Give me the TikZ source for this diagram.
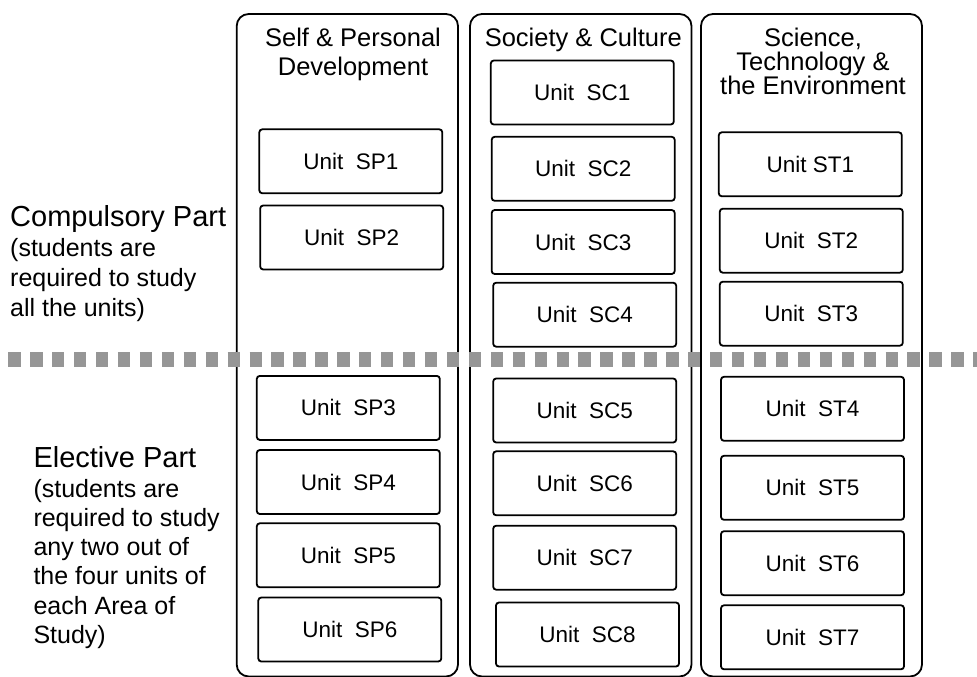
\documentclass[tikz,border=0pt]{standalone}
\usepackage{fontspec}
\setmainfont{Liberation Sans}
\usetikzlibrary{positioning}
\definecolor{sepgray}{RGB}{150,150,150}
\newcommand{\unitw}{183pt}
\newcommand{\unith}{64pt}
\newcommand{\boxlw}{1.8pt}

\begin{document}
\begin{tikzpicture}[x=1pt,y=-1pt]
    \tikzset{area/.style={draw, line width=\boxlw, rounded corners=12pt},
             unitbox/.style={draw, fill=white, line width=\boxlw, rounded corners=3pt,
                 minimum width=\unitw, minimum height=\unith, inner sep=0pt,
                 font=\fontsize{22.5}{27}\selectfont},
             areahead/.style={align=center, inner sep=0pt, anchor=base},
             parttext/.style={align=left, inner sep=0pt, anchor=base west},
             sepline/.style={draw=sepgray, line width=15.5pt, dash pattern=on 12.3pt off 9.63pt}}
    \useasboundingbox (0,0) rectangle (977,677);

    \draw[area] (236.7,14) rectangle (458,676.5);
    \draw[area] (470,14) rectangle (691.5,676.5);
    \draw[area] (701,14) rectangle (922,676.5);

    \node[areahead, font=\fontsize{25.5}{29.3}\selectfont] (headSP) at (353,76) {Self \& Personal\\Development};
    \node[areahead, font=\fontsize{25.5}{29.3}\selectfont] (headSC) at (583.3,46.7) {Society \& Culture};
    \node[areahead, font=\fontsize{25.5}{24}\selectfont] (headST) at (813,94.3) {Science,\\Technology \&\\the Environment};

    \node[parttext, font=\fontsize{25}{30}\selectfont] (compulsory) at (10,316.5)
        {{\fontsize{29}{30}\selectfont Compulsory Part}\\(students are\\required to study\\all the units)};
    \node[parttext, font=\fontsize{25}{29.3}\selectfont] (elective) at (33.3,643.5)
        {{\fontsize{29}{29.3}\selectfont Elective Part}\\(students are\\required to study\\any two out of\\the four units of\\each Area of\\Study)};

    \draw[sepline] (8.3,359.5) -- (977,359.5);

    \node[unitbox] (SP1) at (350.8,161.3) {Unit~~SP1};
    \node[unitbox] (SP2) at (351.7,237.5) {Unit~~SP2};
    \node[unitbox] (SP3) at (348.3,407.9) {Unit~~SP3};
    \node[unitbox] (SP4) at (348.3,482) {Unit~~SP4};
    \node[unitbox] (SP5) at (348.3,555.3) {Unit~~SP5};
    \node[unitbox] (SP6) at (349.8,629.5) {Unit~~SP6};

    \node[unitbox] (SC1) at (582.3,92.5) {Unit~~SC1};
    \node[unitbox] (SC2) at (583.2,168.8) {Unit~~SC2};
    \node[unitbox] (SC3) at (583.2,242) {Unit~~SC3};
    \node[unitbox] (SC4) at (584.7,314.7) {Unit~~SC4};
    \node[unitbox] (SC5) at (584.7,410.5) {Unit~~SC5};
    \node[unitbox] (SC6) at (584.7,483.3) {Unit~~SC6};
    \node[unitbox] (SC7) at (584.7,557.7) {Unit~~SC7};
    \node[unitbox] (SC8) at (587.5,634.5) {Unit~~SC8};

    \node[unitbox] (ST1) at (810.3,164.3) {Unit ST1};
    \node[unitbox] (ST2) at (811.3,240.7) {Unit~~ST2};
    \node[unitbox] (ST3) at (811.3,313.7) {Unit~~ST3};
    \node[unitbox] (ST4) at (812.5,408.8) {Unit~~ST4};
    \node[unitbox] (ST5) at (812.5,487.8) {Unit~~ST5};
    \node[unitbox] (ST6) at (812.5,563.2) {Unit~~ST6};
    \node[unitbox] (ST7) at (812.5,637.3) {Unit~~ST7};
\end{tikzpicture}
\end{document}
